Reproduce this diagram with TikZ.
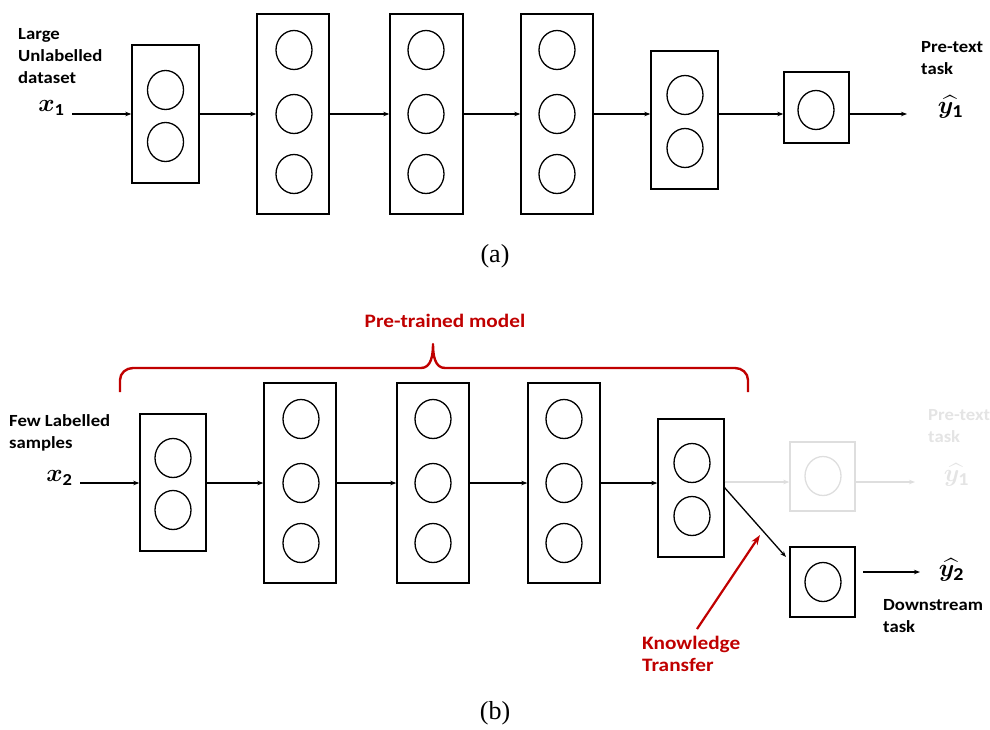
\documentclass[tikz,border=0pt]{standalone}
\usepackage{amsmath}
\usepackage{bm}
\usepackage{fontspec}
\setmainfont{Carlito}[FakeStretch=1.1]
\newfontfamily\redfont{Carlito}[FakeStretch=1.12]
\newfontfamily\capfont{Liberation Serif}
\usetikzlibrary{arrows.meta,shapes.geometric}
\definecolor{kred}{HTML}{C00000}
\definecolor{faded}{HTML}{DEDEDE}
\definecolor{fadedtxt}{HTML}{E4E4E4}
\tikzset{
  layer/.style={draw, line width=1.4pt, minimum width=#1, inner sep=0pt},
  layer/.default=68pt,
  neuron/.style={draw, ellipse, line width=1.3pt, minimum width=36pt, minimum height=39pt, inner sep=0pt},
  arr/.style={line width=1.3pt, -{Stealth[length=6pt,width=4.5pt]}},
  lbl/.style={font=\fontsize{17}{22}\selectfont\bfseries, align=left, inner sep=0pt},
  redlbl/.style={font=\redfont\fontsize{19}{22}\selectfont\bfseries, text=kred, align=left, inner sep=0pt},
  mth/.style={font=\fontsize{24}{26}\selectfont, inner sep=0pt},
  captext/.style={font=\capfont\fontsize{26}{28}\selectfont, inner sep=0pt},
}
\begin{document}
\begin{tikzpicture}[x=1pt,y=-1pt]
\useasboundingbox (0,0) rectangle (990,729);
% ---------------- (a) ----------------
\node[layer=67pt, minimum height=138pt] (a1) at (165.5,114) {};
\node[layer=72pt, minimum height=200pt] (a2) at (293,114) {};
\node[layer=73pt, minimum height=200pt] (a3) at (426.5,114) {};
\node[layer=72pt, minimum height=200pt] (a4) at (557,114) {};
\node[layer=67pt, minimum height=138pt] (a5) at (684.5,120) {};
\node[layer=65pt, minimum height=71pt] (a6) at (816.5,107.5) {};
\node[neuron] (a1n1) at (165.5,90) {};
\node[neuron] (a1n2) at (165.5,142) {};
\foreach \c/\x in {a2/294,a3/426,a4/557}{
  \node[neuron] (\c n1) at (\x,50) {};
  \node[neuron] (\c n2) at (\x,114) {};
  \node[neuron] (\c n3) at (\x,174) {};
}
\node[neuron] (a5n1) at (685,95) {};
\node[neuron] (a5n2) at (685,148) {};
\node[neuron] (a6n1) at (816,110) {};
\node[lbl, anchor=north west] (la) at (18,28) {Large\\Unlabelled\\dataset};
\node[mth] (x1) at (51,108) {$\bm{x}_{\mathbf{1}}$};
\coordinate (a0) at (72,114);
\coordinate (aout) at (907,114);
\draw[arr] (a0) -- (a1.west |- a0);
\draw[arr] (a1.east |- a0) -- (a2.west |- a0);
\draw[arr] (a2.east |- a0) -- (a3.west |- a0);
\draw[arr] (a3.east |- a0) -- (a4.west |- a0);
\draw[arr] (a4.east |- a0) -- (a5.west |- a0);
\draw[arr] (a5.east |- a0) -- (a6.west |- a0);
\draw[arr] (a6.east |- aout) -- (aout);
\node[lbl, anchor=north west] (lpt) at (921,41) {Pre-text\\task};
\node[mth, font=\fontsize{26}{28}\selectfont] (y1) at (950,107) {$\widehat{\bm{y}_{\mathbf 1}}$};
\node[captext] (capa) at (495,256) {(a)};
% ---------------- (b) ----------------
\node[layer=66pt, minimum height=137pt] (b1) at (173,482.5) {};
\node[layer=72pt, minimum height=200pt] (b2) at (300,483) {};
\node[layer=72pt, minimum height=200pt] (b3) at (433,483) {};
\node[layer=72pt, minimum height=200pt] (b4) at (564,483) {};
\node[layer=66pt, minimum height=138pt] (b5) at (691,488) {};
\node[layer=65pt, minimum height=69pt, draw=faded] (bf) at (822.5,476.5) {};
\node[layer=65pt, minimum height=70pt] (bd) at (822.5,582) {};
\node[neuron] (b1n1) at (173,458) {};
\node[neuron] (b1n2) at (173,510) {};
\foreach \c/\x in {b2/301,b3/433,b4/564}{
  \node[neuron] (\c n1) at (\x,419) {};
  \node[neuron] (\c n2) at (\x,483) {};
  \node[neuron] (\c n3) at (\x,543) {};
}
\node[neuron] (b5n1) at (692,463) {};
\node[neuron] (b5n2) at (692,516) {};
\node[neuron, draw=faded] (bfn1) at (823,476) {};
\node[neuron] (bdn1) at (823,582) {};
\node[lbl, anchor=north west] (lb) at (9,414) {Few Labelled\\samples};
\node[mth] (x2) at (59,478) {$\bm{x}_{\mathbf{2}}$};
\coordinate (b0) at (80,483);
\draw[arr] (b0) -- (b1.west |- b0);
\draw[arr] (b1.east |- b0) -- (b2.west |- b0);
\draw[arr] (b2.east |- b0) -- (b3.west |- b0);
\draw[arr] (b3.east |- b0) -- (b4.west |- b0);
\draw[arr] (b4.east |- b0) -- (b5.west |- b0);
\coordinate (bfo) at (915,482);
\draw[arr, draw=faded] (b5.east |- bfo) -- (bf.west |- bfo);
\draw[arr, draw=faded] (bf.east |- bfo) -- (bfo);
\node[lbl, anchor=north west, text=fadedtxt] (lpt2) at (928,409) {Pre-text\\task};
\node[mth, font=\fontsize{26}{28}\selectfont, text=fadedtxt] (y1f) at (956,475) {$\widehat{\bm{y}_{\mathbf 1}}$};
% transfer arrow
\coordinate (bk) at (724,487);
\coordinate (bdt) at (786,557);
\draw[arr] (bk) -- (bdt);
\coordinate (bdo) at (920,572);
\coordinate (bdi) at (863,572);
\draw[arr] (bdi) -- (bdo);
\node[mth, font=\fontsize{26}{28}\selectfont] (y2) at (951,570) {$\widehat{\bm{y}_{\mathbf 2}}$};
\node[lbl, anchor=north west] (ldt) at (883,599) {Downstream\\task};
% knowledge transfer
\coordinate (kt0) at (697,629);
\coordinate (kt1) at (760,535);
\draw[line width=2.2pt, draw=kred, -{Stealth[length=10pt,width=7pt]}] (kt0) -- (kt1);
\node[redlbl, anchor=north west] (lkt) at (642,636) {Knowledge\\Transfer};
% brace
\coordinate (brl) at (120,392);
\coordinate (brr) at (748,392);
\coordinate (brt) at (433,344);
\draw[draw=kred, line width=2.4pt, line join=round]
  (brl) -- (120,380) to[out=90,in=180] (133,368) -- (421,368)
  to[out=0,in=-90] (brt) to[out=-90,in=180] (445,368) -- (735,368)
  to[out=0,in=90] (748,380) -- (brr);
\node[redlbl, anchor=center] (lpm) at (445,321) {Pre-trained model};
\node[captext] (capb) at (495,713) {(b)};
\end{tikzpicture}
\end{document}
